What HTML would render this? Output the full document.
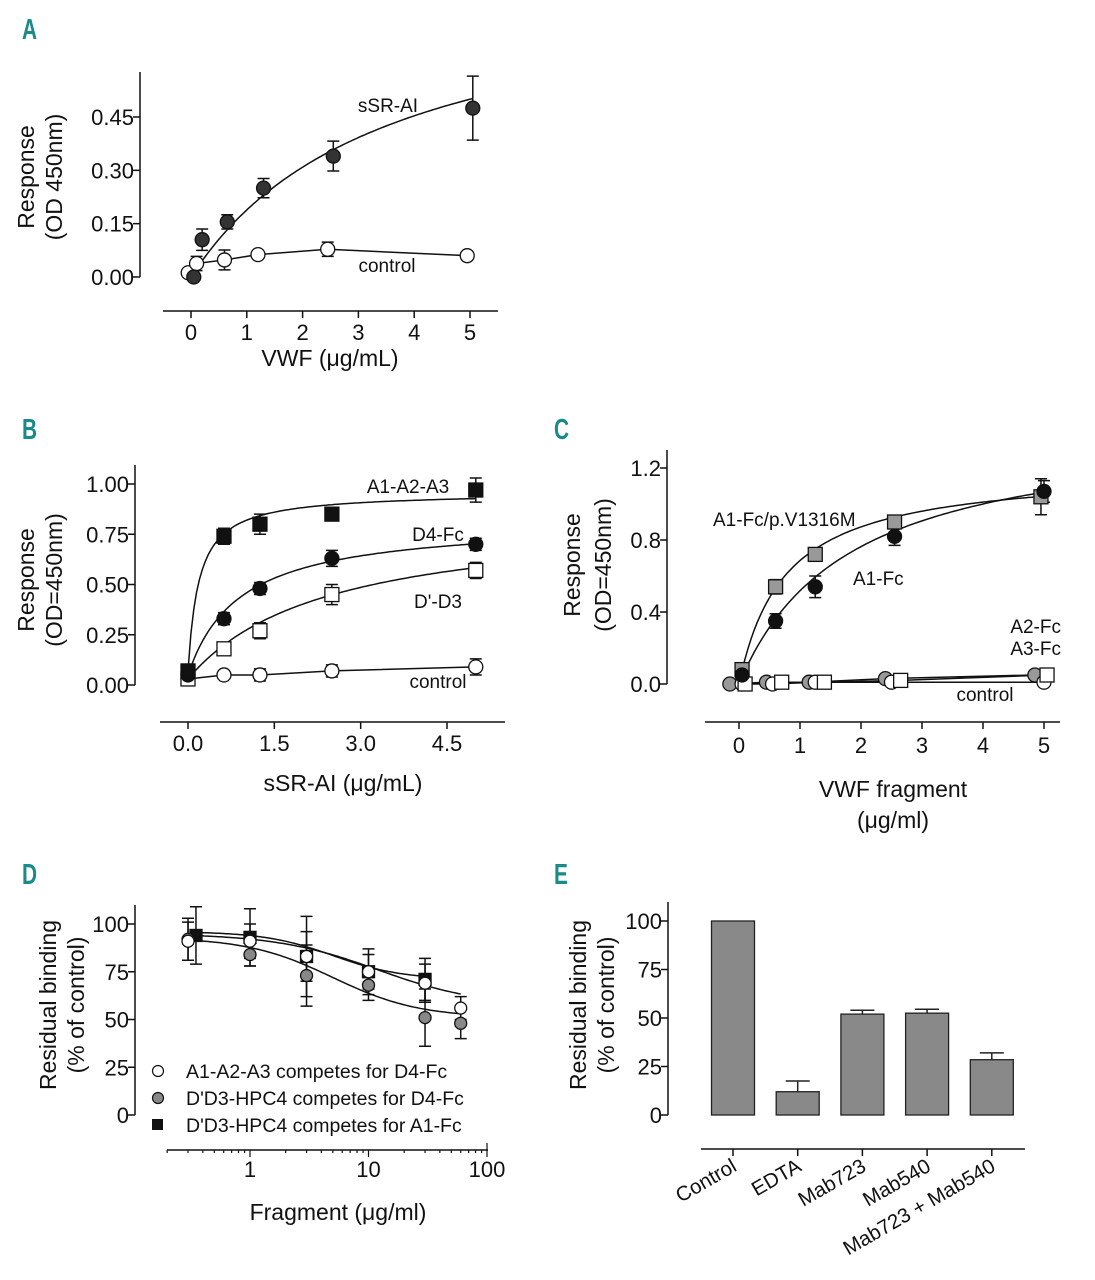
<!DOCTYPE html>
<html><head><meta charset="utf-8"><style>
html,body{margin:0;padding:0;background:#fff}
svg{display:block}
text{font-family:"Liberation Sans",sans-serif;fill:#111}
.lbl{font-family:"Liberation Sans",sans-serif;font-weight:bold;fill:#1a8a8a;font-size:29px}
</style></head><body>
<svg id="fig" width="1095" height="1280" viewBox="0 0 1095 1280" xmlns="http://www.w3.org/2000/svg">
<text class="lbl" transform="translate(22,39) scale(0.72,1)">A</text>
<text class="lbl" transform="translate(22,439) scale(0.72,1)">B</text>
<text class="lbl" transform="translate(554,439) scale(0.72,1)">C</text>
<text class="lbl" transform="translate(22,884) scale(0.72,1)">D</text>
<text class="lbl" transform="translate(554,884) scale(0.72,1)">E</text>
<g id="pA"></g>
<g id="pB"></g>
<g id="pC"></g>
<g id="pD"></g>
<g id="pE"></g>
</svg>
<script>
// Panel A data
const aSsrX=[0.05,0.2,0.65,1.3,2.55,5.05];
const aSsrY=[0,0.105,0.155,0.25,0.34,0.475];
const aSsrE=[0,0.03,0.02,0.027,0.042,0.09];
const aCtlX=[-0.05,0.1,0.6,1.2,2.45,4.95];
const aCtlY=[0.012,0.038,0.048,0.063,0.078,0.06];
const aCtlE=[0,0.02,0.028,0,0.02,0];
const aFit=[0.851,3.51];
const aYTicks=[0,0.15,0.30,0.45];
const aYTickLabels=["0.00","0.15","0.30","0.45"];
const aXTicks=[0,1,2,3,4,5];
// Panel B data
const bX=[0,0.625,1.25,2.5,5];
const bA123=[0.07,0.74,0.80,0.85,0.97];
const bA123E=[0,0.04,0.05,0.03,0.06];
const bD4=[0.05,0.33,0.48,0.63,0.70];
const bD4E=[0,0.03,0.03,0.04,0.03];
const bDD3=[0.03,0.18,0.27,0.45,0.57];
const bDD3E=[0,0,0.04,0.05,0.04];
const bCtl=[0.03,0.05,0.05,0.07,0.09];
const bCtlE=[0,0,0.03,0.03,0.04];
const bFitA123=[0.96,0.19];
const bFitD4=[0.82,0.9];
const bFitDD3=[0.85,2.4];
const bYTicks=[0,0.25,0.5,0.75,1.0];
const bYTickLabels=["0.00","0.25","0.50","0.75","1.00"];
const bXTicks=[0,1.5,3.0,4.5];
const bXTickLabels=["0.0","1.5","3.0","4.5"];
// Panel C data
const cMutX=[0.05,0.6,1.25,2.55,4.95];
const cMutY=[0.08,0.54,0.72,0.90,1.04];
const cMutE=[0,0.04,0,0.03,0.1];
const cA1X=[0.05,0.6,1.25,2.55,5.0];
const cA1Y=[0.05,0.35,0.54,0.82,1.07];
const cA1E=[0,0.04,0.06,0.05,0.06];
const cA2X=[-0.15,0.45,1.15,2.4,4.85];
const cA2Y=[0,0.01,0.01,0.03,0.05];
const cA3X=[0.1,0.7,1.4,2.65,5.05];
const cA3Y=[0,0.01,0.01,0.02,0.05];
const cCtlX=[0.05,0.55,1.25,2.5,5.0];
const cCtlY=[0,0,0.01,0.01,0.01];
const cFitMut=[1.2,0.75];
const cFitA1=[1.45,1.8];
const cYTicks=[0,0.4,0.8,1.2];
const cYTickLabels=["0.0","0.4","0.8","1.2"];
const cXTicks=[0,1,2,3,4,5];
// Panel D data
const dX=[0.3,1,3,10,30,60];
const dOpenY=[91,91,83,75,69,56];
const dOpenE=[10,9,13,9,10,6];
const dGrayY=[92,84,73,68,51,48];
const dGrayE=[11,6,16,8,15,8];
const dSqX=[0.35,1,3,10,30];
const dSqY=[94,93,83,75,71];
const dSqE=[15,15,21,12,11];
const dFitOpen=[95,57,12,1];
const dFitGray=[93,51,5,1.2];
const dFitSq=[96,71,5,1.5];
const dYTicks=[0,25,50,75,100];
const dXTicks=[1,10,100];
// Panel E data
const eCats=["Control","EDTA","Mab723","Mab540","Mab723 + Mab540"];
const eVals=[100,12,52,52.5,28.5];
const eErr=[0,5.5,2,2,3.5];
const eYTicks=[0,25,50,75,100];

const NS="http://www.w3.org/2000/svg";
const TFS=22;
function el(p,tag,at,txt){const e=document.createElementNS(NS,tag);for(const k in at)e.setAttribute(k,at[k]);if(txt!==undefined)e.textContent=txt;p.appendChild(e);return e;}
function lin(d0,d1,r0,r1){return v=>r0+(v-d0)*(r1-r0)/(d1-d0);}

function yAxis(g,x,yTop,yBot,ticks,labels,sy,fs){
  const a=el(g,'line',{x1:x,y1:yTop,x2:x,y2:yBot,stroke:'#111','stroke-width':1.5});
  
  
  ticks.forEach((t,i)=>{const y=sy(t);
    const tk=el(g,'line',{x1:x-7,y1:y,x2:x,y2:y,stroke:'#111','stroke-width':1.5});
    
    
    const tl=el(g,'text',{x:x-6,y:y+8,'text-anchor':'end','font-size':fs||TFS},labels?labels[i]:String(t));
    
    
  });
}
function xAxis(g,y,x0,x1,ticks,labels,sx,ly){
  const a=el(g,'line',{x1:x0,y1:y,x2:x1,y2:y,stroke:'#111','stroke-width':1.5});
  
  
  ticks.forEach((t,i)=>{const x=sx(t);
    const tk=el(g,'line',{x1:x,y1:y,x2:x,y2:y+7,stroke:'#111','stroke-width':1.5});
    
    
    if(labels!==null){const tl=el(g,'text',{x:x,y:ly,'text-anchor':'middle','font-size':TFS},labels?labels[i]:String(t));
    
    }
  });
}
function txt(g,x,y,s,fs,anchor,name,rot){
  const at={x:x,y:y,'font-size':fs,'text-anchor':anchor||'start'};
  if(rot!==undefined)at.transform='rotate('+rot+' '+x+' '+y+')';
  const t=el(g,'text',at,s);
  
  
  return t;
}
function errs(g,xs,ys,es,sx,sy,name){
  xs.forEach((xv,i)=>{if(!es||!es[i])return;const x=sx(xv),y1=sy(ys[i]-es[i]),y2=sy(ys[i]+es[i]);
    const p=el(g,'path',{d:`M${x},${y1}V${y2}M${x-6},${y1}h12M${x-6},${y2}h12`,stroke:'#111','stroke-width':1.5,fill:'none'});
    
    
  });
}
function marks(g,xs,ys,sx,sy,shape,fill,name,r){
  r=r||7;
  xs.forEach((xv,i)=>{const x=sx(xv),y=sy(ys[i]);let m;
    if(shape==='c')m=el(g,'circle',{cx:x,cy:y,r:r,fill:fill,stroke:'#111','stroke-width':1.3});
    else m=el(g,'rect',{x:x-r,y:y-r,width:2*r,height:2*r,fill:fill,stroke:'#111','stroke-width':1.3});
    
    
  });
}
function polyline(g,xs,ys,sx,sy,name){
  const p=el(g,'polyline',{points:xs.map((x,i)=>sx(x)+','+sy(ys[i])).join(' '),fill:'none',stroke:'#111','stroke-width':1.5});
  
  
}
function curve(g,f,x0,x1,sx,sy,name,log){
  let d='';for(let i=0;i<=100;i++){let x=log?Math.pow(10,Math.log10(x0)+(Math.log10(x1)-Math.log10(x0))*i/100):x0+(x1-x0)*i/100;d+=(i?'L':'M')+sx(x).toFixed(1)+','+sy(f(x)).toFixed(1);}
  const p=el(g,'path',{d:d,fill:'none',stroke:'#111','stroke-width':1.5});
  
  
}
const hyp=p=>x=>p[0]*x/(p[1]+x);
const fourPL=p=>x=>p[1]+(p[0]-p[1])/(1+Math.pow(x/p[2],p[3]));

// ---- Panel A
(function(){const g=document.getElementById('pA');
 const sx=lin(0,5,191,470), sy=lin(0,0.45,277,117);
 yAxis(g,140,72,277,aYTicks,aYTickLabels,sy);
 xAxis(g,311,163,498,aXTicks,null,sx,333);
 aXTicks.forEach(t=>txt(g,sx(t),340,String(t),TFS,'middle','x-tick-label'));
 txt(g,330,366,'VWF (\u03bcg/mL)',23,'middle','x-axis-title');
 txt(g,34,177,'Response',23,'middle','y-axis-title',-90);
 txt(g,62,177,'(OD 450nm)',23,'middle','y-axis-title-unit',-90);
 curve(g,hyp(aFit),0.2,5.05,sx,sy,'ssr-ai');
 polyline(g,aCtlX,aCtlY,sx,sy,'control');
 errs(g,aSsrX,aSsrY,aSsrE,sx,sy,'ssr-ai');errs(g,aCtlX,aCtlY,aCtlE,sx,sy,'control');
 marks(g,aCtlX,aCtlY,sx,sy,'c','#fff','control');
 marks(g,aSsrX,aSsrY,sx,sy,'c','#333','ssr-ai');
 txt(g,388,112,'sSR-AI',19,'middle','ssr-ai-label');
 txt(g,387,272,'control',19,'middle','control-label');
})();
// ---- Panel B
(function(){const g=document.getElementById('pB');
 const sx=lin(0,4.5,188,447), sy=lin(0,1,685,484);
 yAxis(g,135,465,685,bYTicks,bYTickLabels,sy);
 xAxis(g,722,160,505,bXTicks,bXTickLabels,sx,751);
 txt(g,343,791,'sSR-AI (\u03bcg/mL)',23,'middle','x-axis-title');
 txt(g,34,580,'Response',23,'middle','y-axis-title',-90);
 txt(g,62,580,'(OD=450nm)',23,'middle','y-axis-title-unit',-90);
 curve(g,x=>bA123[0]+(hyp(bFitA123)(x))*(1-bA123[0]/bFitA123[0]),0,5,sx,sy,'a1-a2-a3');
 curve(g,x=>bD4[0]+hyp(bFitD4)(x)*(1-bD4[0]/bFitD4[0]),0,5,sx,sy,'d4-fc');
 curve(g,x=>bDD3[0]+hyp(bFitDD3)(x)*(1-bDD3[0]/bFitDD3[0]),0,5,sx,sy,'dprime-d3');
 polyline(g,bX,bCtl,sx,sy,'control');
 errs(g,bX,bA123,bA123E,sx,sy,'a1-a2-a3');errs(g,bX,bD4,bD4E,sx,sy,'d4-fc');errs(g,bX,bDD3,bDD3E,sx,sy,'dprime-d3');errs(g,bX,bCtl,bCtlE,sx,sy,'control');
 marks(g,bX,bCtl,sx,sy,'c','#fff','control');
 marks(g,bX,bDD3,sx,sy,'s','#fff','dprime-d3');
 marks(g,bX,bD4,sx,sy,'c','#111','d4-fc');
 marks(g,bX,bA123,sx,sy,'s','#111','a1-a2-a3');
 txt(g,408,493,'A1-A2-A3',19,'middle','a1-a2-a3-label');
 txt(g,438,541,'D4-Fc',19,'middle','d4-fc-label');
 txt(g,438,608,'D\'-D3',19,'middle','dprime-d3-label');
 txt(g,438,688,'control',19,'middle','control-label');
})();
// ---- Panel C
(function(){const g=document.getElementById('pC');
 const sx=lin(0,5,739,1044), sy=lin(0,1.2,684,468);
 yAxis(g,667,450,684,cYTicks,cYTickLabels,sy);
 xAxis(g,722,705,1060,cXTicks,null,sx,750);
 cXTicks.forEach(t=>txt(g,sx(t),753,String(t),TFS,'middle','x-tick-label'));
 txt(g,893,797,'VWF fragment',23,'middle','x-axis-title');
 txt(g,893,828,'(\u03bcg/ml)',23,'middle','x-axis-title-unit');
 txt(g,580,565,'Response',23,'middle','y-axis-title',-90);
 txt(g,611,565,'(OD=450nm)',23,'middle','y-axis-title-unit',-90);
 curve(g,hyp(cFitMut),0.05,5,sx,sy,'a1-fc-v1316m');
 curve(g,hyp(cFitA1),0.05,5,sx,sy,'a1-fc');
 polyline(g,cA2X,cA2Y,sx,sy,'a2-fc');polyline(g,cA3X,cA3Y,sx,sy,'a3-fc');polyline(g,cCtlX,cCtlY,sx,sy,'control');
 errs(g,cMutX,cMutY,cMutE,sx,sy,'a1-fc-v1316m');errs(g,cA1X,cA1Y,cA1E,sx,sy,'a1-fc');
 marks(g,cA2X,cA2Y,sx,sy,'c','#999','a2-fc');
 marks(g,cCtlX,cCtlY,sx,sy,'c','#fff','control');
 marks(g,cA3X,cA3Y,sx,sy,'s','#fff','a3-fc');
 marks(g,cMutX,cMutY,sx,sy,'s','#999','a1-fc-v1316m');
 marks(g,cA1X,cA1Y,sx,sy,'c','#111','a1-fc');
 txt(g,713,526,'A1-Fc/p.V1316M',19,'start','a1-fc-v1316m-label');
 txt(g,853,585,'A1-Fc',19,'start','a1-fc-label');
 txt(g,1061,633,'A2-Fc',19,'end','a2-fc-label');
 txt(g,1061,655,'A3-Fc',19,'end','a3-fc-label');
 txt(g,985,701,'control',19,'middle','control-label');
})();
// ---- Panel D
(function(){const g=document.getElementById('pD');
 const lx=v=>250+(Math.log10(v))*118.5, sy=lin(0,100,1115,924);
 yAxis(g,135,905,1115,dYTicks,null,sy);
 const ax=el(g,'line',{x1:167,y1:1150,x2:488,y2:1150,stroke:'#111','stroke-width':1.5});
 
 
 for(let dec=-1;dec<2;dec++)for(let m=1;m<10;m++){const v=m*Math.pow(10,dec);if(v<0.2)continue;
   const t=el(g,'line',{x1:lx(v),y1:1150,x2:lx(v),y2:1150-(m===1?-7:-3),stroke:'#111','stroke-width':1.2});
   
   }
 const t100=el(g,'line',{x1:lx(100),y1:1143,x2:lx(100),y2:1157,stroke:'#111','stroke-width':1.2});
 
 
 dXTicks.forEach(t=>txt(g,lx(t),1177,String(t),TFS,'middle','x-tick-label'));
 txt(g,338,1220,'Fragment (\u03bcg/ml)',23,'middle','x-axis-title');
 txt(g,56,1005,'Residual binding',23,'middle','y-axis-title',-90);
 txt(g,84,1005,'(% of control)',23,'middle','y-axis-title-unit',-90);
 curve(g,fourPL(dFitOpen),0.3,60,lx,sy,'a1-a2-a3',true);
 curve(g,fourPL(dFitGray),0.3,60,lx,sy,'dd3-d4fc',true);
 curve(g,fourPL(dFitSq),0.35,30,lx,sy,'dd3-a1fc',true);
 errs(g,dSqX,dSqY,dSqE,lx,sy,'dd3-a1fc');errs(g,dX,dGrayY,dGrayE,lx,sy,'dd3-d4fc');errs(g,dX,dOpenY,dOpenE,lx,sy,'a1-a2-a3');
 marks(g,dSqX,dSqY,lx,sy,'s','#111','dd3-a1fc',6);
 marks(g,dX,dGrayY,lx,sy,'c','#888','dd3-d4fc',6);
 marks(g,dX,dOpenY,lx,sy,'c','#fff','a1-a2-a3',6);
 const leg=[['c','#fff','A1-A2-A3 competes for D4-Fc',1071],['c','#888','D\'D3-HPC4 competes for D4-Fc',1098],['s','#111','D\'D3-HPC4 competes for A1-Fc',1125]];
 leg.forEach(l=>{let m;
   if(l[0]==='c')m=el(g,'circle',{cx:158,cy:l[3],r:5.5,fill:l[1],stroke:'#111','stroke-width':1.2});
   else m=el(g,'rect',{x:152,y:l[3]-6,width:11,height:11,fill:l[1]});
   
   
   txt(g,186,l[3]+7,l[2],19.5,'start','legend-entry');});
})();
// ---- Panel E
(function(){const g=document.getElementById('pE');
 const sy=lin(0,100,1115,921);
 yAxis(g,668,902,1115,eYTicks,null,sy);
 const ax=el(g,'line',{x1:701,y1:1149,x2:1025,y2:1149,stroke:'#111','stroke-width':1.5});
 
 
 txt(g,586,1005,'Residual binding',23,'middle','y-axis-title',-90);
 txt(g,614,1005,'(% of control)',23,'middle','y-axis-title-unit',-90);
 eCats.forEach((c,i)=>{const cx=733+i*64.7;
   const b=el(g,'rect',{x:cx-21.5,y:sy(eVals[i]),width:43,height:sy(0)-sy(eVals[i]),fill:'#898989',stroke:'#222','stroke-width':1.3});
   
   
   if(eErr[i]){const y1=sy(eVals[i]),y2=sy(eVals[i]+eErr[i]);
     const e=el(g,'path',{d:`M${cx},${y1}V${y2}M${cx-12},${y2}h24`,stroke:'#222','stroke-width':1.5,fill:'none'});
     
     }
   const t=el(g,'line',{x1:cx,y1:1149,x2:cx,y2:1156,stroke:'#111','stroke-width':1.5});
   
   
   txt(g,cx+5,1170,c,20.5,'end','x-tick-label',-30);
 });
})();
</script>
</body></html>
